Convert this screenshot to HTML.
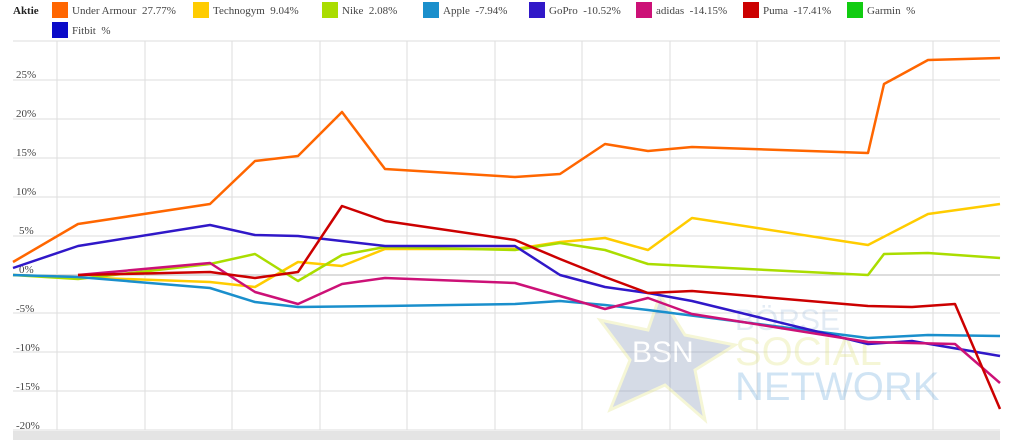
<!DOCTYPE html><html><head><style>
body{margin:0;width:1024px;height:440px;background:#fff;overflow:hidden;font-family:"Liberation Serif",serif;font-size:11px;color:#444}
.l{position:absolute;height:16px;line-height:16px}
.s{position:absolute;width:16px;height:16px}
</style></head><body>
<div class="l" style="left:13px;top:3px;font-weight:bold;color:#222">Aktie</div>
<div class="s" style="left:52px;top:2px;background:#f60"></div><div class="l" style="left:72px;top:3px">Under Armour&nbsp; 27.77%</div>
<div class="s" style="left:193px;top:2px;background:#fc0"></div><div class="l" style="left:213px;top:3px">Technogym&nbsp; 9.04%</div>
<div class="s" style="left:322px;top:2px;background:#ad0"></div><div class="l" style="left:342px;top:3px">Nike&nbsp; 2.08%</div>
<div class="s" style="left:423px;top:2px;background:#1a8fcc"></div><div class="l" style="left:443px;top:3px">Apple&nbsp; -7.94%</div>
<div class="s" style="left:529px;top:2px;background:#3018c8"></div><div class="l" style="left:549px;top:3px">GoPro&nbsp; -10.52%</div>
<div class="s" style="left:636px;top:2px;background:#cc1177"></div><div class="l" style="left:656px;top:3px">adidas&nbsp; -14.15%</div>
<div class="s" style="left:743px;top:2px;background:#c00"></div><div class="l" style="left:763px;top:3px">Puma&nbsp; -17.41%</div>
<div class="s" style="left:847px;top:2px;background:#1c1"></div><div class="l" style="left:867px;top:3px">Garmin&nbsp; %</div>
<div class="s" style="left:52px;top:22px;background:#0a0ac8"></div><div class="l" style="left:72px;top:23px">Fitbit&nbsp; %</div>
<svg width="1024" height="440" style="position:absolute;left:0;top:0" font-family="Liberation Serif" font-size="11" fill="#444">
<g stroke="#ddd" stroke-width="1">
<line x1="13" y1="41" x2="1000" y2="41"/><line x1="13" y1="80" x2="1000" y2="80"/><line x1="13" y1="119" x2="1000" y2="119"/><line x1="13" y1="158" x2="1000" y2="158"/><line x1="13" y1="197" x2="1000" y2="197"/><line x1="13" y1="236" x2="1000" y2="236"/><line x1="13" y1="275" x2="1000" y2="275" stroke="#bbb"/><line x1="13" y1="313" x2="1000" y2="313"/><line x1="13" y1="352" x2="1000" y2="352"/><line x1="13" y1="391" x2="1000" y2="391"/><line x1="13" y1="430" x2="1000" y2="430"/>
<line x1="57" y1="41" x2="57" y2="430"/><line x1="145" y1="41" x2="145" y2="430"/><line x1="232" y1="41" x2="232" y2="430"/><line x1="320" y1="41" x2="320" y2="430"/><line x1="407" y1="41" x2="407" y2="430"/><line x1="495" y1="41" x2="495" y2="430"/><line x1="582" y1="41" x2="582" y2="430"/><line x1="670" y1="41" x2="670" y2="430"/><line x1="757" y1="41" x2="757" y2="430"/><line x1="845" y1="41" x2="845" y2="430"/><line x1="933" y1="41" x2="933" y2="430"/>
</g>
<rect x="13" y="431" width="987" height="9" fill="#e4e4e4"/>
<g opacity="0.28">
<polygon points="660,295 685,335 735,345 695,370 705,420 665,385 610,410 630,360 600,320 648,330" fill="#6a7fa8" stroke="#dde070" stroke-width="3"/>
<text x="632" y="362" font-family="Liberation Sans" font-size="30" fill="#fff">BSN</text>
<text x="735" y="330" font-family="Liberation Sans" font-size="30" fill="#9bb8d8">BÖRSE</text>
<text x="735" y="365" font-family="Liberation Sans" font-size="40" fill="#dde070">SOCIAL</text>
<text x="735" y="400" font-family="Liberation Sans" font-size="40" fill="#5aa0d8">NETWORK</text>
</g>
<g>
<text x="16" y="78">25%</text><text x="16" y="117">20%</text><text x="16" y="156">15%</text><text x="16" y="195">10%</text><text x="19" y="234">5%</text><text x="19" y="273">0%</text><text x="16" y="312">-5%</text><text x="16" y="351">-10%</text><text x="16" y="390">-15%</text><text x="16" y="429">-20%</text>
</g>
<g fill="none" stroke-width="2.5" stroke-linejoin="round">
<polyline stroke="#fc0" points="13,275 210,282 255,287 298,262 342,266 385,249 515,249 560,242 605,238 648,250 692,218 868,245 928,214 1000,204"/>
<polyline stroke="#ad0" points="13,275 78,279 210,264 255,254 298,281 342,255 385,247 515,250 560,243 605,250 648,264 868,275 884,254 928,253 1000,258"/>
<polyline stroke="#1a8fcc" points="13,275 78,277 210,288 255,302 298,307 385,306 515,304 560,301 605,305 648,310 868,338 928,335 1000,336"/>
<polyline stroke="#3018c8" points="13,268 78,246 210,225 255,235 298,236 385,246 515,246 560,275 605,287 648,293 692,301 868,344 912,341 1000,356"/>
<polyline stroke="#cc1177" points="78,275 210,263 255,292 298,304 342,284 385,278 515,283 560,296 605,309 648,298 692,314 868,342 955,344 1000,383"/>
<polyline stroke="#c00" points="78,275 210,272 255,278 298,272 342,206 385,221 515,240 560,259 605,277 648,293 692,291 868,306 912,307 955,304 1000,409"/>
<polyline stroke="#f60" points="13,262 78,224 210,204 255,161 298,156 342,112 385,169 515,177 560,174 605,144 648,151 692,147 868,153 884,84 928,60 1000,58"/>
</g>
</svg>
</body></html>
